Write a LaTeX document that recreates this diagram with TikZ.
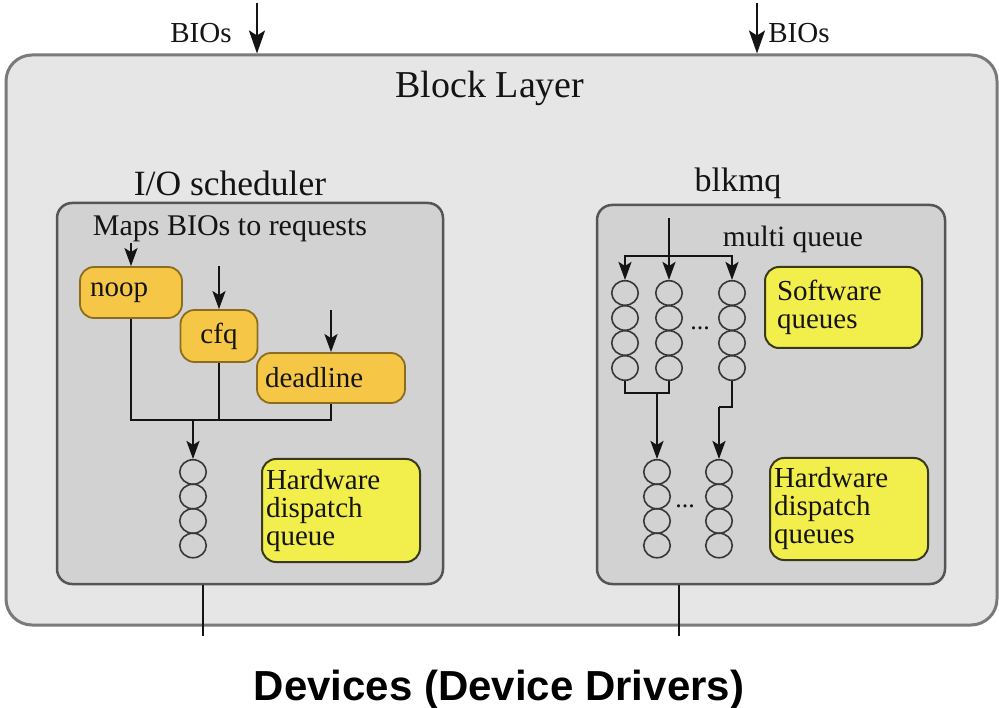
\documentclass[tikz,border=0pt]{standalone}
\usepackage{fontspec}
\setmainfont{Liberation Serif}
\newfontfamily\capfont{Liberation Sans}
\usetikzlibrary{arrows.meta,shapes.geometric}

\definecolor{layerfill}{HTML}{E6E6E6}
\definecolor{layerline}{HTML}{7A7A7A}
\definecolor{panelfill}{HTML}{D2D2D2}
\definecolor{panelline}{HTML}{555555}
\definecolor{goldfill}{HTML}{F6C746}
\definecolor{goldline}{HTML}{8C6D1F}
\definecolor{lemonfill}{HTML}{F2EE4C}
\definecolor{lemonline}{HTML}{3A3A1A}
\definecolor{ink}{HTML}{141414}

\tikzset{
  layerbox/.style={draw=layerline, fill=layerfill, line width=3pt, rounded corners=26pt, inner sep=0pt},
  panel/.style={draw=panelline, fill=panelfill, line width=2.5pt, rounded corners=15pt, inner sep=0pt},
  schedbox/.style={draw=goldline, fill=goldfill, line width=1.8pt, rounded corners=14pt,
    font=\fontsize{29}{29}\selectfont, text=ink, inner ysep=0pt},
  notebox/.style={draw=lemonline, fill=lemonfill, line width=2pt, rounded corners=14pt,
    font=\fontsize{29}{28}\selectfont, text=ink, align=left, inner ysep=0pt},
  slot/.style={ellipse, draw=ink!85, line width=1.6pt, minimum width=26.5pt, minimum height=24.5pt, inner sep=0pt},
  conn/.style={draw=ink, line width=2.3pt},
  arr/.style={conn, -{Stealth[length=18pt,width=13pt,inset=4pt]}},
  bigarr/.style={conn, -{Stealth[length=23pt,width=16pt,inset=5pt]}},
  label/.style={text=ink, inner sep=0pt},
}

\begin{document}
\begin{tikzpicture}[x=1pt,y=-1pt]
\useasboundingbox (0,0) rectangle (999,708);

% block layer frame
\node[layerbox, minimum width=991pt, minimum height=570pt] (layer) at (501.5,340) {};
\node[label, font=\fontsize{38}{38}\selectfont] (title) at (490,88) {Block Layer};

% incoming BIOs
\coordinate (bioL) at (257,3);
\coordinate (bioR) at (757,3);
\draw[bigarr] (bioL) -- (bioL |- layer.north);
\draw[bigarr] (bioR) -- (bioR |- layer.north);
\node[label, font=\fontsize{29}{29}\selectfont] (bioLtxt) at (201,33) {BIOs};
\node[label, font=\fontsize{29}{29}\selectfont] (bioRtxt) at (799,33) {BIOs};

% ---------- I/O scheduler ----------
\node[label, font=\fontsize{35.5}{35.5}\selectfont] (iotitle) at (230,183) {I/O scheduler};
\node[panel, minimum width=386pt, minimum height=381pt] (lpanel) at (250,393.5) {};
\node[label, font=\fontsize{30}{30}\selectfont] (maps) at (230,229) {Maps BIOs to requests};

\node[schedbox, text width=82pt, inner xsep=10pt, minimum height=51pt, align=left] (noop) at (131,292.5) {noop};
\node[schedbox, text width=57pt, inner xsep=10pt, minimum height=52pt, align=center] (cfq) at (219,336) {cfq};
\node[schedbox, text width=132pt, inner xsep=8pt, minimum height=50pt, align=left] (dl) at (331,378) {deadline};

\coordinate (noopin) at (131,243);
\coordinate (cfqin) at (219,266);
\coordinate (dlin) at (331,310);
\draw[arr] (noopin) -- (noop.north);
\draw[arr] (cfqin) -- (cfq.north);
\draw[arr] (dlin) -- (dl.north);

\coordinate (merge) at (193,420);
\draw[conn] (noop.south) |- (merge) -| (dl.south);
\draw[conn] (cfq.south) -- (cfq.south |- merge);

\foreach \i/\y in {1/472,2/496.5,3/521,4/545.5}
  \node[slot] (lq\i) at (193,\y) {};
\draw[arr] (merge) -- (lq1.north);

\node[notebox, text width=150pt, inner xsep=4pt, minimum height=103pt] (lhw) at (341,510.5)
  {Hardware\\dispatch\\queue};

\coordinate (lout) at (203,636);
\draw[conn] (lpanel.south -| lout) -- (lout);

% ---------- blkmq ----------
\node[label, font=\fontsize{34}{34}\selectfont] (mqtitle) at (738,183) {blkmq};
\node[panel, minimum width=348pt, minimum height=379pt] (rpanel) at (771,394.5) {};
\node[label, font=\fontsize{29.5}{29.5}\selectfont] (multi) at (793,239) {multi queue};

\foreach \c/\x in {a/625,b/669,c/732}
  \foreach \i/\y in {1/293,2/318,3/343,4/368}
    \node[slot] (\c\i) at (\x,\y) {};
\node[label, font=\fontsize{26}{26}\selectfont] (swdots) at (700,328) {...};

\coordinate (rin) at (669,218);
\coordinate (split) at (669,256);
\draw[arr] (rin) -- (b1.north);
\draw[arr] (split) -| (a1.north);
\draw[arr] (split) -| (c1.north);

\node[notebox, text width=133pt, inner xsep=12pt, minimum height=81pt] (sw) at (843.5,307.5)
  {Software\\queues};

\foreach \c/\x in {d/657,e/719}
  \foreach \i/\y in {1/472,2/496.5,3/521,4/545.5}
    \node[slot] (\c\i) at (\x,\y) {};
\node[label, font=\fontsize{26}{26}\selectfont] (hwdots) at (685,506) {...};

\coordinate (join) at (657,393);
\coordinate (jog) at (719,407);
\draw[conn] (a4.south) |- (join) -| (b4.south);
\draw[arr] (join) -- (d1.north);
\draw[conn] (c4.south) |- (jog);
\draw[arr] (jog) -- (e1.north);

\node[notebox, text width=150pt, inner xsep=4pt, minimum height=102pt] (rhw) at (849,509)
  {Hardware\\dispatch\\queues};

\coordinate (rout) at (679,636);
\draw[conn] (rpanel.south -| rout) -- (rout);

% devices
\node[label, font=\capfont\fontsize{42}{42}\selectfont\bfseries, text=black] (dev) at (499,690)
  {Devices (Device Drivers)};
\end{tikzpicture}
\end{document}
